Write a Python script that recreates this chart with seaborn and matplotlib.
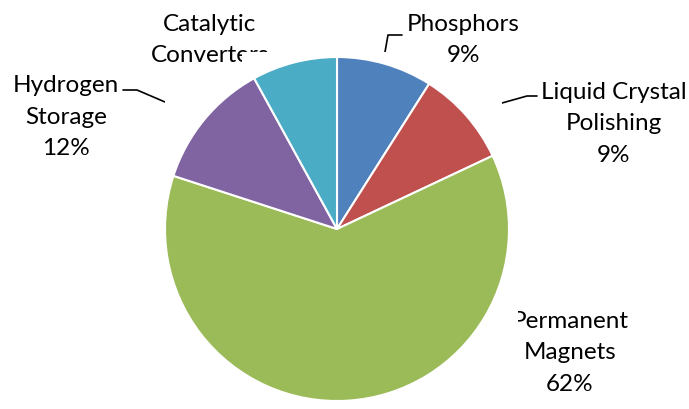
import matplotlib
matplotlib.use("Agg")
import matplotlib.pyplot as plt
import matplotlib.patches as mpatches
import seaborn as sns

# data
categories = ["Phosphors", "Liquid Crystal\nPolishing", "Permanent\nMagnets",
              "Hydrogen\nStorage", "Catalytic\nConverters"]
shares = [9, 9, 62, 12, 8]
colors = ["#4F81BD", "#C0504D", "#9BBB59", "#8064A2", "#4BACC6"]

sns.set_theme(style="white")
plt.rcParams["font.family"] = ["Lato", "DejaVu Sans"]

W, H = 689, 410
fig = plt.figure(figsize=(6.89, 4.10), dpi=100)
ax = fig.add_axes([0, 0, 1, 1])

wedges, _ = ax.pie(
    shares,
    colors=colors,
    startangle=90,
    counterclock=False,
    center=(337, H - 230),
    radius=172,
    wedgeprops=dict(edgecolor="white", linewidth=1.5),
)
for w in wedges:
    w.set_zorder(3)

ax.set_xlim(0, W)
ax.set_ylim(0, H)
ax.set_aspect("equal")
ax.axis("off")

# label positions in pixel coords (x, y from top)
label_pos = [(463, 40), (614, 124), (570, 353), (66, 117), (210, 56)]
for cat, val, (px, py) in zip(categories, shares, label_pos):
    ax.text(px, H - py, f"{cat}\n{val}%", ha="center", va="center",
            multialignment="center", fontsize=17.5, linespacing=1.6,
            color="#000000", zorder=1)

# leader lines
leaders = [
    [(402, 36), (388, 36), (385, 53)],
    [(537, 97), (527, 97), (502, 104)],
    [(123, 91), (137, 91), (165, 103)],
]
for pts in leaders:
    ax.plot([p[0] for p in pts], [H - p[1] for p in pts], color="black",
            linewidth=1.2, zorder=1)

# plot area background covering parts of labels
for x0, y0, x1, y1 in [(242, 52.7, 435, 78), (165, 76, 502, 151), (157, 150, 518, 410)]:
    ax.add_patch(mpatches.Rectangle((x0, H - y1), x1 - x0, y1 - y0,
                                    facecolor="white", edgecolor="none", zorder=2))

fig.savefig("out.png", dpi=100)
plt.close(fig)
